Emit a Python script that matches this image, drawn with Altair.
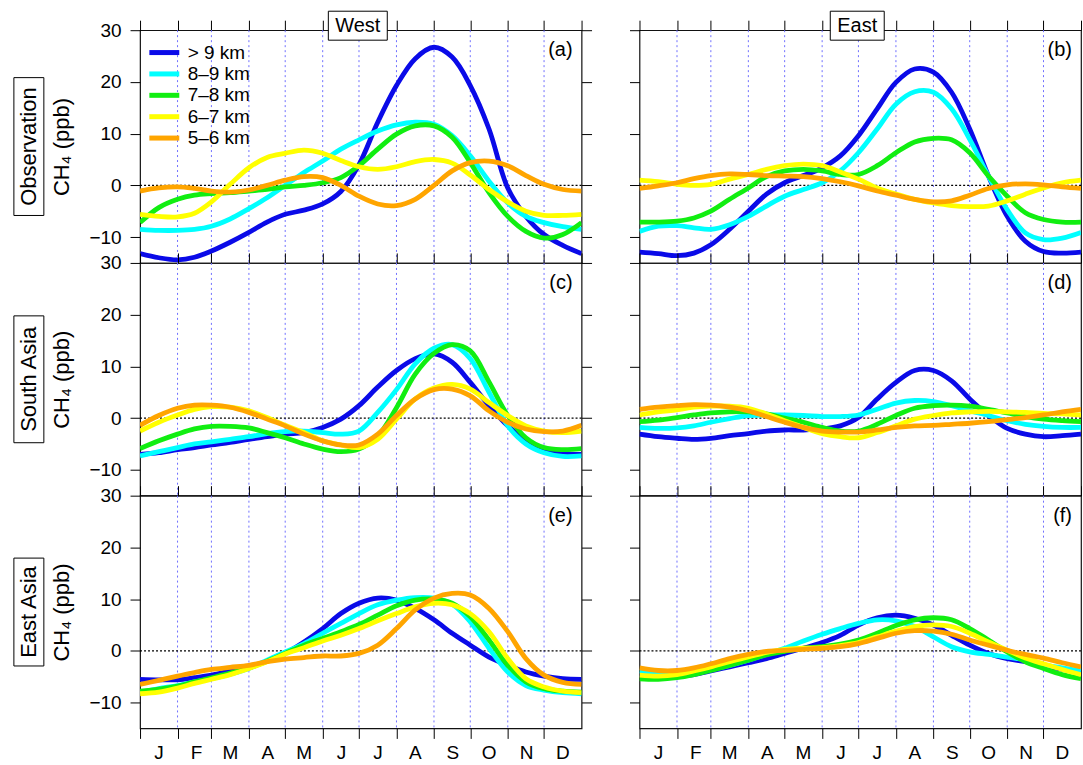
import altair as alt
import pandas as pd

FONT = "Liberation Sans"

MONTHS = ["J", "F", "M", "A", "M", "J", "J", "A", "S", "O", "N", "D"]
MONTH_STARTS = [0, 31, 59, 90, 120, 151, 181, 212, 243, 273, 304, 334, 365]
SAMPLE_DAYS = [0, 15.5, 31, 45, 59, 74.5, 90, 105, 120, 135.5, 151, 166, 181,
               196.5, 212, 227.5, 243, 258, 273, 288.5, 304, 319, 334, 349.5, 365]
SERIES = ["> 9 km", "8–9 km", "7–8 km", "6–7 km", "5–6 km"]
COLORS = ["#0a0ae8", "#00ffff", "#11ee11", "#ffff00", "#ffa500"]
Y_TICKS = [-10, 0, 10, 20, 30]
ROW_LABELS = ["Observation", "South Asia", "East Asia"]
COL_TITLES = ["West", "East"]

OBS_WEST = {
    "> 9 km": [-13.2, -14.0, -14.4, -13.9, -12.7, -11.0, -9.1, -7.1, -5.6, -4.8, -3.6, -1.2, 4.0, 12.2, 19.3, 24.5, 26.7, 24.8, 19.3, 10.9, -0.5, -6.0, -9.5, -11.6, -13.2],
    "8–9 km": [-8.5, -8.7, -8.7, -8.5, -7.9, -6.5, -4.5, -2.4, 0.0, 2.5, 4.7, 7.0, 8.8, 10.5, 11.7, 12.2, 11.8, 9.6, 5.7, 0.8, -3.4, -6.0, -7.2, -8.0, -8.5],
    "7–8 km": [-7.2, -4.3, -2.7, -1.9, -1.6, -1.4, -1.1, -0.8, -0.3, 0.0, 0.5, 1.5, 3.8, 7.0, 9.9, 11.5, 11.5, 9.3, 4.4, -1.4, -6.0, -8.9, -10.2, -9.5, -7.2],
    "6–7 km": [-5.6, -6.0, -6.1, -5.4, -3.2, 0.2, 3.4, 5.4, 6.2, 6.8, 6.2, 4.8, 3.6, 3.1, 3.6, 4.6, 5.0, 4.3, 2.0, -0.8, -3.2, -5.0, -5.8, -5.8, -5.6],
    "5–6 km": [-1.1, -0.5, -0.3, -0.6, -1.1, -1.3, -0.9, 0.0, 1.0, 1.7, 1.5, 0.0, -2.1, -3.6, -3.9, -2.7, 0.0, 2.8, 4.4, 4.7, 3.8, 1.9, 0.2, -0.8, -1.1],
}
OBS_EAST = {
    "> 9 km": [-12.9, -13.2, -13.6, -13.1, -11.5, -8.5, -5.0, -1.7, 0.5, 1.9, 3.4, 5.7, 9.6, 14.8, 19.9, 22.5, 21.9, 18.0, 10.9, 1.8, -6.0, -10.8, -12.8, -13.1, -12.9],
    "8–9 km": [-8.9, -7.9, -7.8, -8.2, -8.5, -7.6, -6.0, -4.0, -2.1, -0.8, 0.5, 2.8, 6.3, 10.9, 15.7, 18.1, 18.0, 14.8, 8.9, 1.8, -4.7, -9.2, -10.5, -10.2, -9.1],
    "7–8 km": [-7.1, -7.1, -6.9, -6.3, -5.0, -2.7, -0.5, 1.7, 2.8, 3.1, 2.8, 2.1, 2.1, 3.8, 6.3, 8.4, 9.1, 8.8, 6.3, 1.8, -2.1, -5.3, -6.6, -7.1, -7.1],
    "6–7 km": [1.0, 0.7, 0.2, 0.0, 0.2, 1.2, 2.1, 3.1, 3.8, 4.1, 3.8, 2.6, 1.2, -0.5, -1.7, -2.7, -3.4, -3.9, -4.1, -4.0, -3.0, -1.7, -0.5, 0.5, 1.0],
    "5–6 km": [-0.6, -0.1, 0.5, 1.3, 1.9, 2.2, 2.1, 1.9, 1.8, 1.7, 1.3, 0.7, -0.1, -1.1, -1.9, -2.7, -3.2, -3.0, -1.9, -0.6, 0.1, 0.3, 0.1, -0.3, -0.6],
}
SA_WEST = {
    "> 9 km": [-7.0, -6.7, -6.1, -5.7, -5.2, -4.7, -4.1, -3.6, -3.1, -2.8, -1.8, -0.2, 2.4, 6.0, 9.2, 11.5, 12.4, 10.8, 6.9, 2.4, -1.5, -4.4, -6.0, -6.8, -7.0],
    "8–9 km": [-7.3, -6.5, -5.7, -5.0, -4.6, -4.1, -3.6, -3.0, -2.6, -2.5, -2.8, -3.1, -2.5, 1.1, 5.5, 10.5, 13.5, 14.2, 11.5, 5.0, -1.5, -5.0, -6.7, -7.4, -7.3],
    "7–8 km": [-5.9, -4.4, -3.1, -2.1, -1.6, -1.6, -1.9, -2.8, -3.8, -5.0, -6.0, -6.5, -6.0, -3.5, 2.0, 8.5, 12.5, 14.2, 13.0, 7.0, 0.5, -3.8, -5.7, -6.1, -5.9],
    "6–7 km": [-2.5, -0.8, 0.6, 1.7, 2.2, 2.1, 1.4, 0.1, -1.4, -2.8, -4.4, -5.2, -5.7, -4.1, -0.2, 3.7, 5.8, 6.5, 5.6, 3.0, 0.5, -1.5, -2.5, -2.8, -2.5],
    "5–6 km": [-1.4, 0.5, 1.9, 2.5, 2.5, 2.1, 1.1, -0.2, -1.5, -3.1, -4.4, -5.2, -5.2, -3.1, 0.5, 3.7, 5.5, 5.6, 4.3, 1.4, -0.8, -2.1, -2.6, -2.5, -1.4],
}
SA_EAST = {
    "> 9 km": [-3.1, -3.6, -3.9, -4.1, -3.9, -3.4, -3.0, -2.5, -2.3, -2.3, -2.1, -1.5, 0.1, 3.7, 6.9, 9.2, 9.2, 7.2, 3.7, 0.5, -2.0, -3.1, -3.6, -3.4, -3.1],
    "8–9 km": [-1.8, -2.0, -1.9, -1.5, -0.8, -0.1, 0.5, 0.6, 0.6, 0.5, 0.3, 0.3, 0.6, 1.7, 2.9, 3.4, 3.2, 2.4, 1.4, 0.5, -0.5, -1.2, -1.6, -1.8, -1.8],
    "7–8 km": [-0.7, -0.4, 0.1, 0.6, 1.0, 1.2, 1.2, 0.8, 0.0, -0.8, -1.8, -2.5, -2.5, -1.2, 0.5, 1.9, 2.4, 2.5, 2.3, 1.7, 1.0, 0.3, -0.2, -0.5, -0.7],
    "6–7 km": [0.6, 1.2, 1.6, 2.1, 2.3, 2.3, 1.9, 0.8, -0.5, -1.8, -3.0, -3.6, -3.8, -2.8, -1.5, -0.2, 0.5, 1.0, 1.2, 1.3, 1.2, 1.1, 0.9, 0.8, 0.6],
    "5–6 km": [1.7, 2.1, 2.4, 2.6, 2.5, 2.1, 1.4, 0.3, -0.8, -1.8, -2.5, -2.7, -2.7, -2.3, -1.8, -1.5, -1.4, -1.2, -1.0, -0.7, -0.3, 0.1, 0.6, 1.2, 1.7],
}
EA_WEST = {
    "> 9 km": [-5.5, -5.6, -5.6, -5.2, -4.7, -3.9, -3.1, -2.0, -0.5, 1.7, 4.3, 7.2, 9.2, 10.2, 9.8, 8.2, 6.0, 3.4, 1.1, -1.2, -2.8, -4.1, -4.9, -5.4, -5.5],
    "8–9 km": [-8.0, -7.3, -6.7, -6.0, -5.4, -4.5, -3.4, -1.8, -0.2, 1.4, 3.4, 5.3, 7.2, 8.9, 9.8, 10.3, 10.2, 9.0, 5.6, 0.5, -4.1, -6.7, -7.6, -8.1, -8.3],
    "7–8 km": [-7.8, -7.4, -6.8, -6.0, -5.2, -4.3, -3.3, -2.0, -0.5, 1.1, 2.4, 3.7, 5.1, 6.9, 8.7, 9.8, 10.0, 9.2, 6.6, 2.1, -2.8, -6.0, -7.3, -7.8, -8.0],
    "6–7 km": [-8.3, -8.0, -7.2, -6.3, -5.5, -4.6, -3.4, -2.1, -0.6, 0.6, 1.9, 3.0, 4.3, 5.8, 7.2, 8.5, 9.2, 8.9, 7.2, 3.7, -1.5, -5.4, -7.0, -7.8, -8.1],
    "5–6 km": [-6.5, -5.7, -4.9, -4.2, -3.6, -3.2, -2.8, -2.1, -1.6, -1.3, -1.0, -1.0, -0.5, 1.1, 4.3, 7.9, 10.2, 11.1, 10.8, 8.2, 3.7, -1.5, -4.7, -6.1, -6.5],
}
EA_EAST = {
    "> 9 km": [-4.6, -5.0, -4.9, -4.6, -3.9, -3.1, -2.3, -1.5, -0.5, 0.5, 1.6, 3.0, 5.0, 6.4, 6.9, 6.3, 5.0, 3.0, 1.1, -0.5, -1.5, -2.1, -2.9, -3.6, -4.2],
    "8–9 km": [-3.9, -4.4, -4.4, -4.1, -3.6, -2.8, -1.8, -0.7, 0.5, 1.9, 3.2, 4.3, 5.3, 6.0, 5.8, 4.7, 2.7, 0.8, -0.2, -0.7, -1.2, -1.8, -2.7, -3.3, -3.9],
    "7–8 km": [-5.4, -5.5, -5.2, -4.6, -3.8, -2.8, -1.8, -0.8, -0.1, 0.5, 0.8, 1.3, 2.1, 3.4, 4.9, 6.0, 6.4, 6.0, 4.3, 2.1, -0.2, -2.1, -3.4, -4.6, -5.4],
    "6–7 km": [-4.7, -4.9, -4.6, -3.9, -3.1, -2.1, -1.2, -0.3, 0.3, 0.5, 0.6, 1.0, 1.6, 2.7, 3.8, 4.7, 5.0, 4.7, 3.4, 1.7, 0.1, -1.4, -2.5, -3.6, -4.6],
    "5–6 km": [-3.3, -3.8, -3.8, -3.3, -2.5, -1.5, -0.7, -0.1, 0.1, 0.3, 0.5, 0.8, 1.4, 2.4, 3.4, 3.9, 3.8, 3.2, 2.1, 1.1, 0.1, -0.7, -1.4, -2.3, -3.1],
}

PANELS = [
    ("a", OBS_WEST), ("b", OBS_EAST),
    ("c", SA_WEST), ("d", SA_EAST),
    ("e", EA_WEST), ("f", EA_EAST),
]
ROW_BOX_HEIGHTS = [138, 127, 108]
COL_BOX_WIDTHS = [59, 54]

W, H = 442, 233
XS = alt.Scale(domain=[0, 365], nice=False, zero=False)
YS = alt.Scale(domain=[-15, 30], nice=False, zero=False)

label_expr = "''"
for d, m in reversed(list(zip(MONTH_STARTS[:-1], MONTHS))):
    label_expr = f"datum.value == {d} ? '{m}' : ({label_expr})"


def make_df(panel):
    rows = []
    for si, s in enumerate(SERIES):
        for d, v in zip(SAMPLE_DAYS, panel[s]):
            rows.append({"series": s, "idx": si, "day": d, "value": v})
    return pd.DataFrame(rows)


def build_panel(i, letter, panel):
    row, col = divmod(i, 2)
    df = make_df(panel)

    legend = None
    if letter == "a":
        legend = alt.Legend(
            orient="none", legendX=14.8, legendY=12.9, title=None,
            symbolType="M-2.14,0H2.14", symbolSize=196, symbolStrokeWidth=5,
            labelFontSize=19, labelFont=FONT, labelOffset=13.9, rowPadding=0.4,
            padding=0, labelColor="black",
        )

    left_axis = alt.Axis(
        orient="left", values=Y_TICKS, tickSize=10, labels=(col == 0),
        labelFontSize=19, labelPadding=9, domain=False, grid=False,
        title="CH₄ (ppb)" if col == 0 else "", titleFontSize=22,
        titleFontWeight="normal", titlePadding=15,
    )
    bottom_axis = None
    if row == 2:
        bottom_axis = alt.Axis(
            orient="bottom", values=MONTH_STARTS[:-1], tickSize=10, labelExpr=label_expr,
            labelOffset=18.4, labelFlush=False, labelOverlap=False, labelFontSize=19,
            labelPadding=5, domain=False, grid=False,
        )

    vlines = alt.Chart(pd.DataFrame({"day": MONTH_STARTS[1:-1]})).mark_rule(
        color="#6f6fff", strokeDash=[2, 3], strokeWidth=1
    ).encode(x=alt.X("day:Q", scale=XS, axis=None, title=None))

    zero = alt.Chart(pd.DataFrame({"value": [0]})).mark_rule(
        color="black", strokeDash=[2, 2], strokeWidth=1.2
    ).encode(y=alt.Y("value:Q", scale=YS, axis=None, title=None))

    lines = alt.Chart(df).mark_line(
        strokeWidth=4.8, interpolate="catmull-rom", clip=True
    ).encode(
        x=alt.X("day:Q", scale=XS, axis=bottom_axis, title=None),
        y=alt.Y("value:Q", scale=YS, axis=left_axis),
        color=alt.Color("series:N", scale=alt.Scale(domain=SERIES, range=COLORS),
                        sort=SERIES, legend=legend),
        detail="idx:O",
    )

    top_axis = alt.Axis(orient="top", values=MONTH_STARTS, tickSize=10, labels=False,
                        domain=False, grid=False)
    right_axis = None
    if col == 0:
        right_axis = alt.Axis(orient="right", values=Y_TICKS, tickSize=10, labels=False,
                              domain=False, grid=False)
    frame = alt.Chart(pd.DataFrame({"day": [0, 365], "value": [-15, 30]})).mark_point(
        opacity=0, size=1, clip=True
    ).encode(
        x=alt.X("day:Q", scale=XS, axis=top_axis, title=None),
        y=alt.Y("value:Q", scale=YS, axis=right_axis, title=None),
    )

    tag = alt.Chart(pd.DataFrame({"t": [f"({letter})"]})).mark_text(
        align="right", baseline="top", fontSize=20, font=FONT, color="black"
    ).encode(text="t:N", x=alt.value(W - 9), y=alt.value(10))

    layers = [vlines, zero, lines, frame, tag]

    if row == 0:
        bw = COL_BOX_WIDTHS[col]
        cx = 218
        box = alt.Chart(pd.DataFrame({"k": [0]})).mark_rect(
            fill="white", stroke="black", strokeWidth=1
        ).encode(x=alt.value(cx - bw / 2), x2=alt.value(cx + bw / 2),
                 y=alt.value(-19), y2=alt.value(10))
        ttl = alt.Chart(pd.DataFrame({"t": [COL_TITLES[col]]})).mark_text(
            align="center", baseline="middle", fontSize=20, font=FONT, color="black"
        ).encode(text="t:N", x=alt.value(cx), y=alt.value(-4.5))
        layers += [box, ttl]

    if col == 0:
        bh = ROW_BOX_HEIGHTS[row]
        rbox = alt.Chart(pd.DataFrame({"k": [0]})).mark_rect(
            fill="white", stroke="black", strokeWidth=1
        ).encode(x=alt.value(-126.3), x2=alt.value(-96.3),
                 y=alt.value(H / 2 - bh / 2), y2=alt.value(H / 2 + bh / 2))
        rtxt = alt.Chart(pd.DataFrame({"t": [ROW_LABELS[row]]})).mark_text(
            align="center", baseline="middle", angle=270, fontSize=22, font=FONT,
            color="black"
        ).encode(text="t:N", x=alt.value(-111.3), y=alt.value(H / 2))
        layers += [rbox, rtxt]

    return alt.layer(*layers).resolve_axis(x="independent", y="independent").properties(
        width=W, height=H
    )


charts = [build_panel(i, letter, p) for i, (letter, p) in enumerate(PANELS)]

chart = alt.concat(
    *charts, columns=2, spacing={"row": 0, "column": 58}, bounds="flush"
).resolve_legend(color="independent").properties(
    padding={"left": 12.2, "top": 8.8, "right": 0, "bottom": 0}
).configure_view(
    stroke="#111111", strokeWidth=1.2
).configure_axis(
    tickColor="black", tickWidth=1, labelColor="black", titleColor="black",
    labelFont=FONT, titleFont=FONT
).configure_text(font=FONT)

chart.save("out.html", embed_options={"renderer": "svg", "actions": False})
